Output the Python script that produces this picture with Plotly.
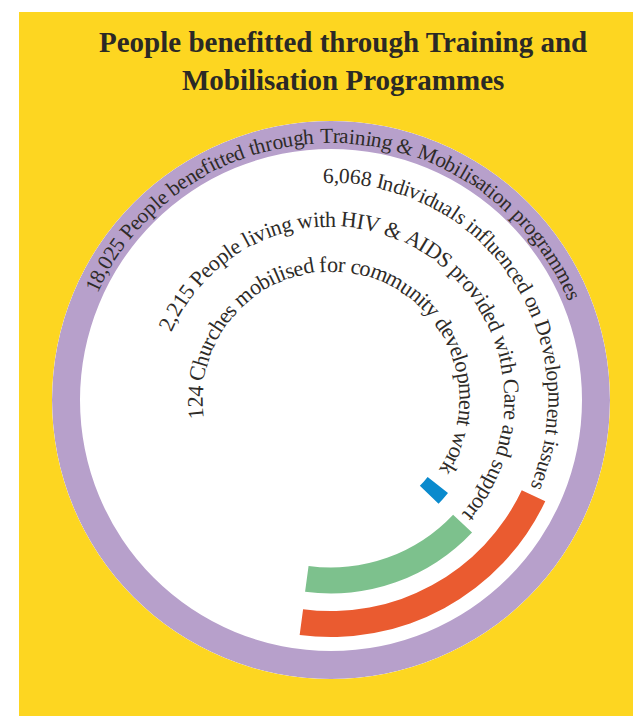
import math
import plotly.graph_objects as go

# ---------------- data ----------------
categories = [
    "People benefitted through Training & Mobilisation programmes",
    "Individuals influenced on Development issues",
    "People living with HIV & AIDS provided with Care and support",
    "Churches mobilised for community development work",
]
values = [18025, 6068, 2215, 124]
title_lines = ["People benefitted through Training and", "Mobilisation Programmes"]

# ---------------- design (as drawn in the infographic) ----------------
W, H = 641, 716
CX, CY = 323, 392           # circle centre (px)
R_OUT = 279                 # outer radius of total ring (px)
ring_inner = [251, 211, 167.5, 123.5]    # inner radius of each track
ring_thick = [28, 26, 26, 26]
# drawn sweep of each arc (degrees, counter-clockwise angles, start/end)
sweep_from = [0, -25.3, -43.2, -38.5]
sweep_to = [360, -97.6, -97.7, -44.0]
colors = ["#B7A0CB", "#EA5B30", "#7DC18D", "#0A8ACD"]

# curved label geometry: (text-centre radius, start angle, end angle) in degrees
label_geom = [
    (264, 155.5, 22.5),
    (224, 92.0, -23.5),
    (181, 157.0, -41.0),
    (136, 188.0, -33.0),
]
TEXT_COLOR = "#2E2B28"
FONT = "Liberation Serif"

# Times / Liberation Serif advance widths (1/1000 em)
TW = {' ': 250, ',': 250, '&': 778, '.': 250, '-': 333,
      'A': 722, 'B': 667, 'C': 667, 'D': 722, 'E': 611, 'F': 556, 'G': 722, 'H': 722, 'I': 333,
      'J': 389, 'K': 722, 'L': 611, 'M': 889, 'N': 722, 'O': 722, 'P': 556, 'Q': 722, 'R': 667,
      'S': 556, 'T': 611, 'U': 722, 'V': 722, 'W': 944, 'X': 722, 'Y': 722, 'Z': 611,
      'a': 444, 'b': 500, 'c': 444, 'd': 500, 'e': 444, 'f': 333, 'g': 500, 'h': 500, 'i': 278,
      'j': 278, 'k': 500, 'l': 278, 'm': 778, 'n': 500, 'o': 500, 'p': 500, 'q': 500, 'r': 333,
      's': 389, 't': 278, 'u': 500, 'v': 500, 'w': 722, 'x': 500, 'y': 500, 'z': 444}
for d in "0123456789":
    TW[d] = 500

fig = go.Figure()

for i, v in enumerate(values):
    a0, a1 = sweep_from[i], sweep_to[i]
    fig.add_trace(go.Barpolar(
        r=[ring_thick[i]], base=[ring_inner[i]],
        theta=[(a0 + a1) / 2], width=[abs(a1 - a0)],
        marker=dict(color=colors[i], line=dict(width=0)),
        name=f"{v:,}", hoverinfo="skip", showlegend=False,
    ))

annotations = []
for (cat, v), (rad, a_start, a_end) in zip(zip(categories, values), label_geom):
    text = f"{v:,} {cat}"
    em = sum(TW.get(c, 500) for c in text) / 1000.0
    arc_len = rad * math.radians(a_start - a_end)
    size = arc_len / em
    s = 0.0
    for c in text:
        w = TW.get(c, 500) / 1000.0 * size
        mid = s + w / 2
        s += w
        if c == ' ':
            continue
        th = math.radians(a_start) - mid / rad
        px = CX + rad * math.cos(th)
        py = CY - rad * math.sin(th)
        ang = 90 - math.degrees(th)
        while ang > 180:
            ang -= 360
        while ang <= -180:
            ang += 360
        annotations.append(dict(
            x=px / W, y=1 - py / H, xref="paper", yref="paper",
            text=c, showarrow=False, textangle=ang,
            xanchor="center", yanchor="middle",
            font=dict(family=FONT, size=size, color=TEXT_COLOR),
        ))

annotations.append(dict(
    x=334.5 / W, y=1 - 53 / H, xref="paper", yref="paper",
    text="<b>" + "<br>".join(title_lines) + "</b>", showarrow=False,
    xanchor="center", yanchor="middle", align="center",
    font=dict(family=FONT, size=29, color="#2B2926"),
))

fig.update_layout(
    width=W, height=H,
    margin=dict(l=0, r=0, t=0, b=0),
    paper_bgcolor="white",
    showlegend=False,
    polar=dict(
        domain=dict(x=[(CX - R_OUT) / W, (CX + R_OUT) / W],
                    y=[1 - (CY + R_OUT) / H, 1 - (CY - R_OUT) / H]),
        bgcolor="white",
        radialaxis=dict(range=[0, R_OUT], visible=False),
        angularaxis=dict(visible=False, rotation=0, direction="counterclockwise"),
        bargap=0,
    ),
    shapes=[dict(type="rect", xref="paper", yref="paper",
                 x0=11 / W, x1=634 / W, y0=0, y1=1 - 4 / H,
                 fillcolor="#FDD621", line=dict(width=0), layer="below")],
    annotations=annotations,
)

fig.write_html("out.html")
